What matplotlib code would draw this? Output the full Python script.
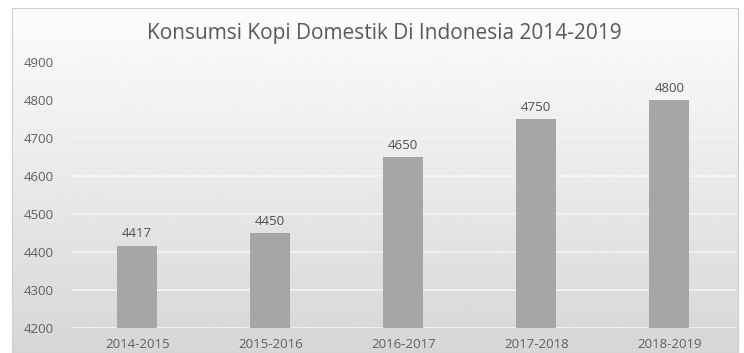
import matplotlib.pyplot as plt
import numpy as np

periods = ['2014-2015', '2015-2016', '2016-2017', '2017-2018', '2018-2019']
consumption = [4417, 4450, 4650, 4750, 4800]
yticks = [4200, 4300, 4400, 4500, 4600, 4700, 4800, 4900]

plt.rcParams['font.family'] = ['Open Sans', 'DejaVu Sans']

fig = plt.figure(figsize=(7.44, 3.53), dpi=100)

# gradient background of the chart area
bg = fig.add_axes([0.016, 0.0, 0.976, 0.977], zorder=0)
grad = np.linspace(0.99, 0.84, 256).reshape(-1, 1)
bg.imshow(grad, aspect='auto', cmap='gray', vmin=0, vmax=1, extent=[0, 1, 0, 1])
bg.set_xticks([])
bg.set_yticks([])
for s in bg.spines.values():
    s.set_color('#d0d0d0')

ax = fig.add_axes([0.095, 0.071, 0.894, 0.753], zorder=1)
ax.patch.set_alpha(0)
x = np.arange(len(periods))
bars = ax.bar(x, consumption, width=0.3, color='#a6a6a6', zorder=2)
ax.set_ylim(4200, 4900)
ax.set_xlim(-0.5, len(periods) - 0.5)
ax.set_yticks(yticks)
ax.set_xticks(x)
ax.set_xticklabels(periods)
ax.tick_params(length=0, labelsize=9.5, colors='#606060')
ax.tick_params(axis='x', pad=7)
ax.tick_params(axis='y', pad=12)
ax.grid(axis='y', color='#f4f4f4', linewidth=1.2, zorder=1)
for s in ax.spines.values():
    s.set_visible(False)

for xi, v in zip(x, consumption):
    ax.text(xi, v + 14, str(v), ha='center', va='bottom', fontsize=9.5, color='#505050')

fig.text(0.517, 0.905, 'Konsumsi Kopi Domestik Di Indonesia 2014-2019',
         ha='center', va='center', fontsize=15, color='#595959')

fig.savefig('out.png', dpi=100)
